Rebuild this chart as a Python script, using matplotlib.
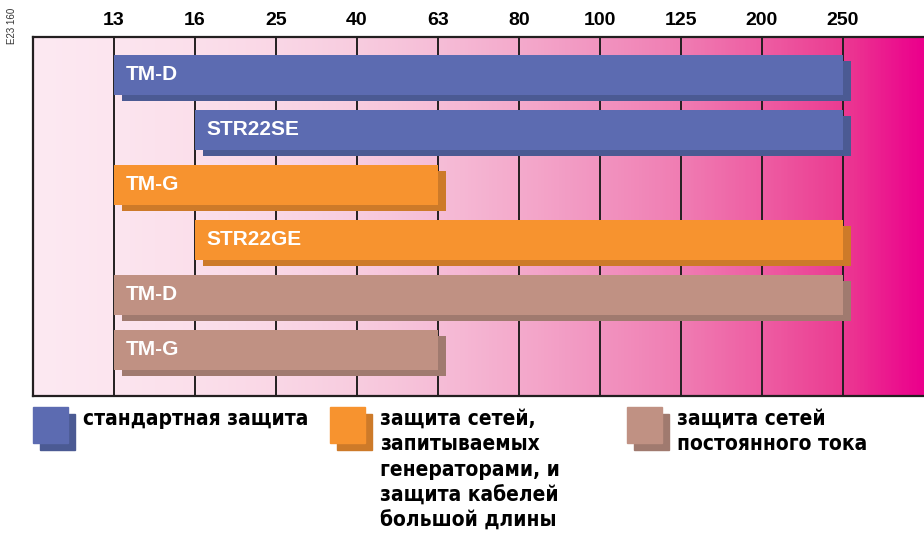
import matplotlib
matplotlib.use("Agg")
from matplotlib import pyplot as plt
from matplotlib import patheffects as pe
from matplotlib import font_manager
from matplotlib.colors import LinearSegmentedColormap
from matplotlib.patches import Rectangle
import numpy as np

# данные
ratings = ['13', '16', '25', '40', '63', '80', '100', '125', '200', '250']
bar_labels = ['TM-D', 'STR22SE', 'TM-G', 'STR22GE', 'TM-D', 'TM-G']
bar_start = ['13', '16', '13', '16', '13', '13']
bar_end = ['250', '250', '63', '250', '250', '63']
bar_group = [0, 0, 1, 1, 2, 2]

groups = ['стандартная защита',
          'защита сетей,\nзапитываемых\nгенераторами, и\nзащита кабелей\nбольшой длины',
          'защита сетей\nпостоянного тока']
colors = ['#5c6bb1', '#f7932f', '#c09183']
shadows = ['#4b5a93', '#cd7a29', '#a07a6f']

bg_stops = ['#fde9f2', '#fce5ef', '#fbdfeb', '#fad7e6', '#f8ccdf', '#f6bdd7',
            '#f4aacc', '#f294c0', '#f07db3', '#ee5ea3', '#eb3c92', '#ec008c']

plt.rcParams['font.family'] = ['Liberation Sans', 'DejaVu Sans']

# узкий шрифт для подписей легенды, если есть
fonts = [(f.name, f.stretch) for f in font_manager.fontManager.ttflist]
if any(nm == 'Liberation Sans Narrow' for nm, st in fonts):
    leg_font = dict(family=['Liberation Sans Narrow', 'DejaVu Sans'], fontsize=15.5)
elif any(nm == 'DejaVu Sans' and st == 'condensed' for nm, st in fonts):
    leg_font = dict(family=['DejaVu Sans'], fontstretch='condensed', fontsize=15)
else:
    leg_font = dict(family=['Liberation Sans', 'DejaVu Sans'], fontsize=14.5)

fig = plt.figure(figsize=(9.24, 5.36), dpi=100)
ax = fig.add_axes([33 / 924, 1 - 396 / 536, 891 / 924, 359 / 536])

idx = {r: i for i, r in enumerate(ratings)}
n = len(bar_labels)
ax.set_xlim(-1, len(ratings))
ax.set_ylim(n - 1 + 0.84, -0.69)

# градиентный фон
cmap = LinearSegmentedColormap.from_list('bg', bg_stops)
grad = np.linspace(0, 1, 600).reshape(1, -1)
ax.imshow(grad, cmap=cmap, aspect='auto', extent=(-1, len(ratings), n - 1 + 0.84, -0.69),
          zorder=0, interpolation='bilinear')

for i in range(len(ratings)):
    ax.axvline(i, color='#231f20', lw=1.4, zorder=1)

shadow_off = (5.5, -4.5)
for row, lab in enumerate(bar_labels):
    g = bar_group[row]
    x0 = idx[bar_start[row]]
    x1 = idx[bar_end[row]]
    b = ax.barh(row, x1 - x0, left=x0, height=0.73, color=colors[g], zorder=2)
    b[0].set_path_effects([pe.SimplePatchShadow(offset=shadow_off, shadow_rgbFace=shadows[g], alpha=1.0),
                           pe.Normal()])
    ax.text(x0 + 0.14, row, lab, color='white', fontsize=15, fontweight='bold',
            va='center', ha='left', zorder=3)

ax.xaxis.tick_top()
ax.set_xticks(range(len(ratings)))
ax.set_xticklabels(ratings, fontsize=14, fontweight='bold')
ax.tick_params(axis='x', length=0, pad=6)
ax.set_yticks([])
for s in ['top', 'left', 'bottom']:
    ax.spines[s].set_linewidth(1.6)
    ax.spines[s].set_color('#231f20')
ax.spines['right'].set_visible(False)

# легенда
leg_x = [33, 330, 627]
for g, name in enumerate(groups):
    x = leg_x[g]
    fig.patches.append(Rectangle(((x + 7) / 924, 1 - 450 / 536), 35 / 924, 36 / 536,
                                 transform=fig.transFigure, color=shadows[g], zorder=1))
    fig.patches.append(Rectangle((x / 924, 1 - 443 / 536), 35 / 924, 36 / 536,
                                 transform=fig.transFigure, color=colors[g], zorder=2))
    fig.text((x + 50) / 924, 1 - 409 / 536, name, fontweight='bold', va='top', ha='left',
             linespacing=1.33, color='black', **leg_font)

fig.text(12 / 924, 1 - 26 / 536, 'E23 160', rotation=90, fontsize=7, color='#333333',
         ha='center', va='center')

fig.savefig('out.png', dpi=100)
plt.close()
